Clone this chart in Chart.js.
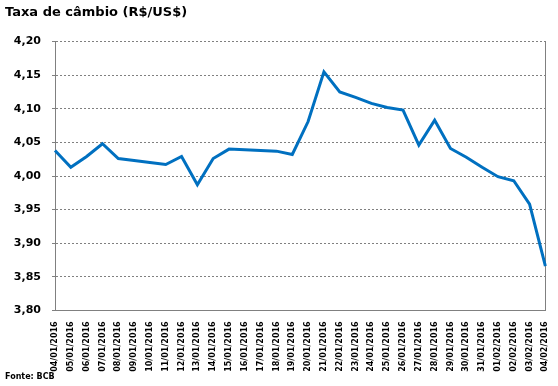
<!DOCTYPE html>
<html>
<head>
<meta charset="utf-8">
<script src="https://cdn.jsdelivr.net/npm/chart.js@4"></script>
<style>
  html, body { margin: 0; padding: 0; background: #fff; }
  #wrap { width: 558px; height: 386px; }
</style>
</head>
<body>
<div id="wrap"><canvas id="myChart"></canvas></div>
<script>
var dias = [
    '04/01/2016', '05/01/2016', '06/01/2016', '07/01/2016', '08/01/2016',
    '09/01/2016', '10/01/2016', '11/01/2016', '12/01/2016', '13/01/2016',
    '14/01/2016', '15/01/2016', '16/01/2016', '17/01/2016', '18/01/2016',
    '19/01/2016', '20/01/2016', '21/01/2016', '22/01/2016', '23/01/2016',
    '24/01/2016', '25/01/2016', '26/01/2016', '27/01/2016', '28/01/2016',
    '29/01/2016', '30/01/2016', '31/01/2016', '01/02/2016', '02/02/2016',
    '03/02/2016', '04/02/2016'
];
var cambio = [
    4.038, 4.013, 4.029, 4.048, 4.026,
    4.023, 4.020, 4.017, 4.029, 3.987,
    4.026, 4.040, 4.039, 4.038, 4.037,
    4.032, 4.081, 4.155, 4.125, 4.117,
    4.108, 4.102, 4.098, 4.046, 4.083,
    4.041, 4.028, 4.013, 3.999, 3.993,
    3.958, 3.866
];
var yMin = 3.80;
var yMax = 4.20;
var yStep = 0.05;

var cinza = '#808080';
var fonte = 'DejaVu Sans';

var data1 = {
    labels: dias,
    datasets: [
        {
            label: 'Taxa de câmbio',
            data: cambio,
            borderColor: '#0070C0',
            borderWidth: 3,
            pointRadius: 0,
            tension: 0,
            fill: false
        }
    ]
};

var options = {
    responsive: true,
    maintainAspectRatio: false,
    animation: false,
    layout: {
        padding: { left: 5, right: 0, top: 0, bottom: 0 }
    },
    plugins: {
        legend: { display: false },
        tooltip: { enabled: false },
        title: {
            display: true,
            text: 'Taxa de câmbio (R$/US$)',
            align: 'start',
            color: '#000',
            font: { family: fonte, size: 13, weight: 'bold' },
            padding: { top: 5, bottom: 21 }
        },
        subtitle: {
            display: true,
            position: 'bottom',
            text: 'Fonte: BCB',
            align: 'start',
            color: '#000',
            font: { family: fonte, size: 8, weight: 'bold' },
            padding: { top: 0, bottom: 4 }
        }
    },
    scales: {
        x: {
            grid: { display: false },
            border: { display: true, color: cinza, dash: [2, 2] },
            ticks: {
                autoSkip: false,
                maxRotation: 90,
                minRotation: 90,
                padding: 3,
                color: '#000',
                font: { family: fonte, size: 8, weight: 'bold' }
            },
            afterFit: function (scale) { scale.height = 62; }
        },
        y: {
            min: yMin,
            max: yMax,
            grid: {
                color: cinza,
                lineWidth: 1,
                tickLength: 3,
                tickColor: cinza,
                dash: [2, 2]
            },
            border: { display: true, color: cinza, dash: [2, 2] },
            ticks: {
                stepSize: yStep,
                padding: 11,
                color: '#000',
                font: { family: fonte, size: 11, weight: 'bold' },
                callback: function (v) { return v.toFixed(2).replace('.', ','); }
            },
            afterFit: function (scale) { scale.width = 50; }
        },
        // borda direita da área do gráfico
        y2: {
            position: 'right',
            min: yMin,
            max: yMax,
            grid: { drawOnChartArea: false, drawTicks: false },
            border: { display: true, color: cinza, width: 1 },
            ticks: { display: false },
            afterFit: function (scale) { scale.width = 6; }
        }
    }
};

var ctx1 = document.getElementById('myChart').getContext('2d');
var myLineChart = new Chart(ctx1, {
    type: 'line',
    data: data1,
    options: options
});
</script>
</body>
</html>
